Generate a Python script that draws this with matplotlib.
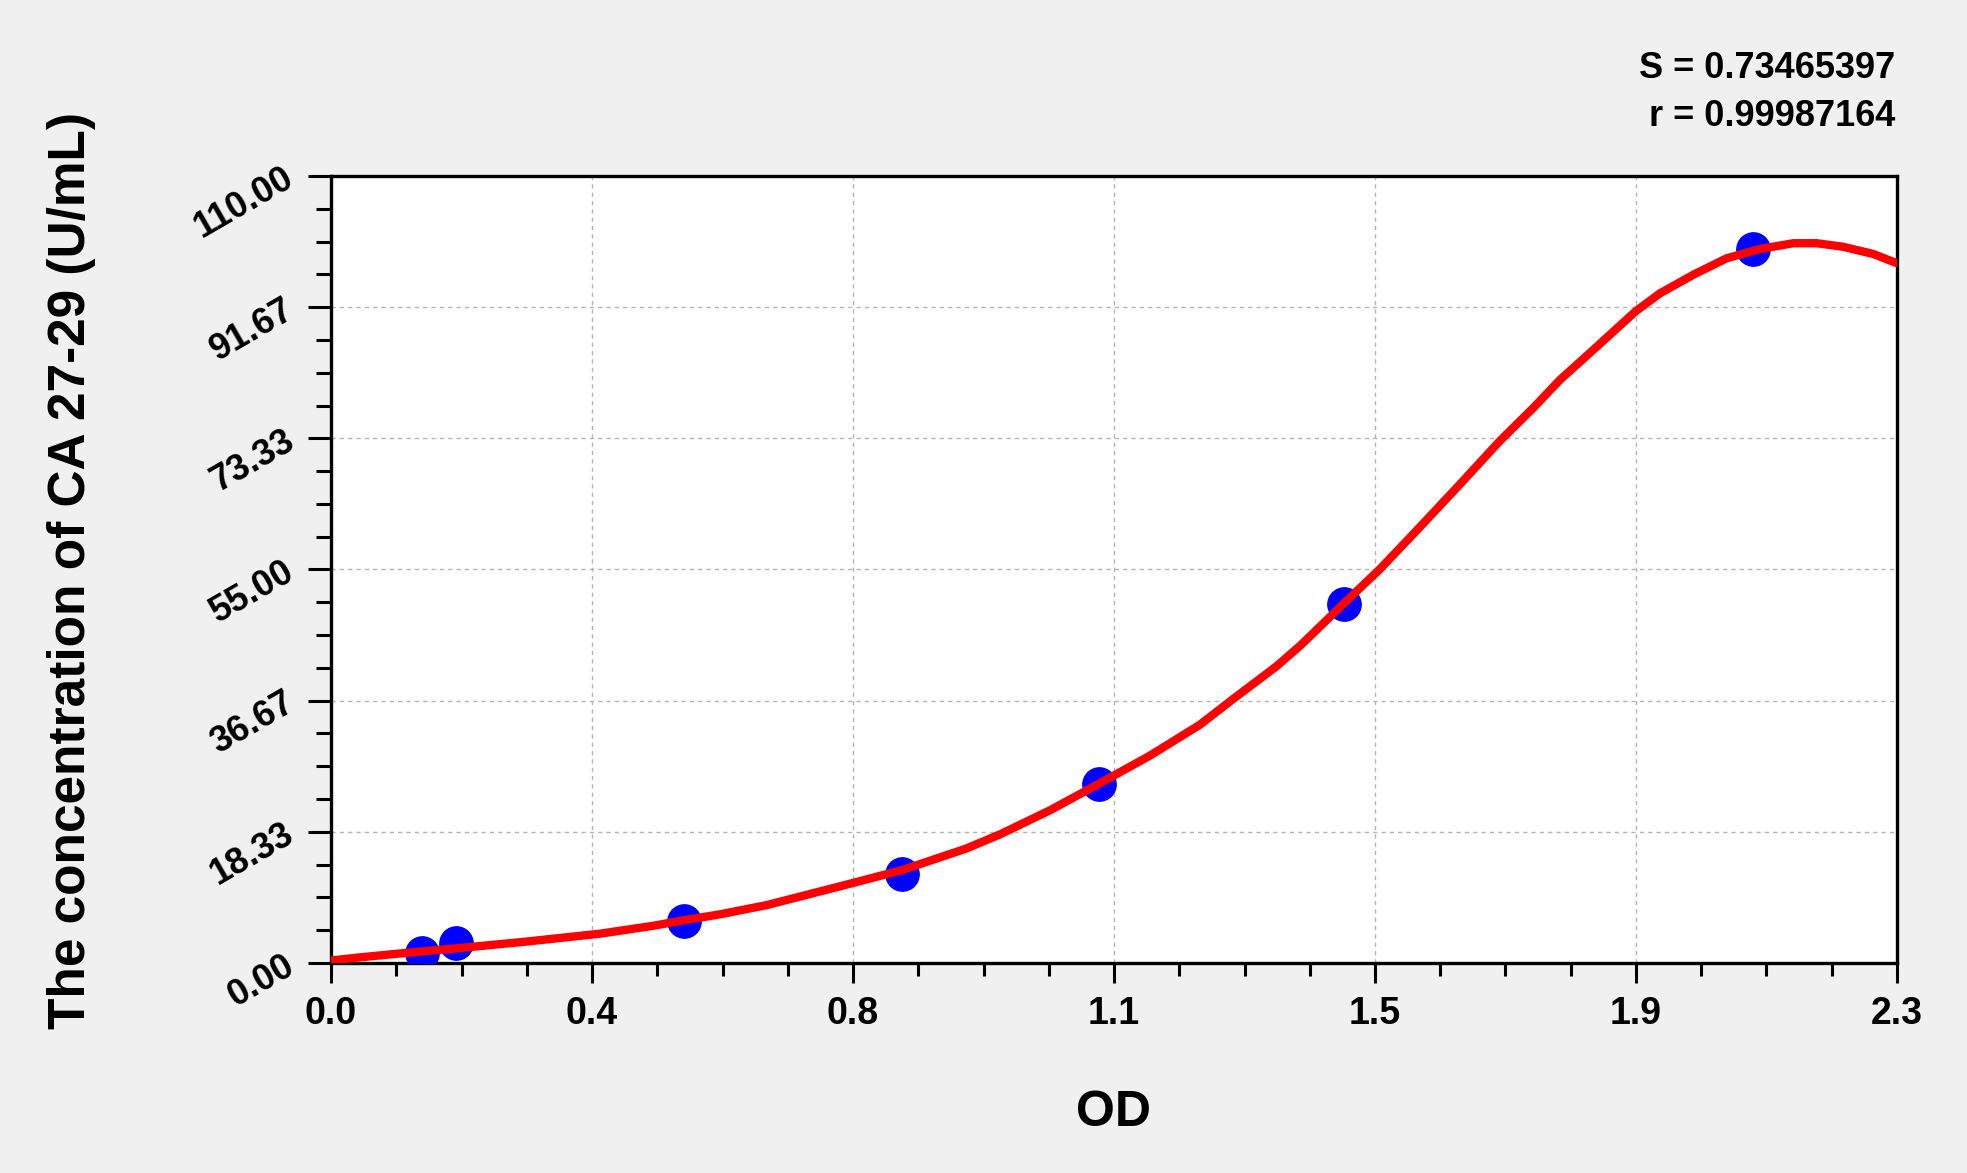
import matplotlib
matplotlib.use('Agg')
import matplotlib.pyplot as plt
from matplotlib.ticker import AutoMinorLocator

# Standard points (OD, concentration)
od = [0.133, 0.184, 0.519, 0.839, 1.128, 1.488, 2.088]
conc = [1.39, 2.73, 5.9, 12.4, 25.06, 50.2, 99.8]

# Fitted curve
curve_x = [0.000, 0.038, 0.097, 0.189, 0.287, 0.395, 0.473, 0.519, 0.571, 0.640,
           0.767, 0.839, 0.933, 0.983, 1.056, 1.128, 1.203, 1.276, 1.325, 1.389,
           1.424, 1.487, 1.541, 1.594, 1.658, 1.717, 1.766, 1.805, 1.854, 1.916,
           1.952, 2.001, 2.050, 2.099, 2.148, 2.182, 2.221, 2.265, 2.300]
curve_y = [0.35, 0.75, 1.3, 2.1, 3.0, 4.1, 5.2, 6.0, 6.8, 8.1,
           11.2, 13.0, 16.0, 18.0, 21.35, 25.06, 29.0, 33.3, 36.9, 41.5,
           44.4, 50.2, 55.1, 60.4, 66.9, 73.0, 77.6, 81.5, 85.7, 91.07,
           93.6, 96.2, 98.5, 99.8, 100.6, 100.6, 100.1, 99.1, 97.8]

x_ticks = [0.0, 2.3 / 6, 2 * 2.3 / 6, 3 * 2.3 / 6, 4 * 2.3 / 6, 5 * 2.3 / 6, 2.3]
x_labels = ['0.0', '0.4', '0.8', '1.1', '1.5', '1.9', '2.3']
y_ticks = [0.0, 110 / 6, 2 * 110 / 6, 3 * 110 / 6, 4 * 110 / 6, 5 * 110 / 6, 110.0]
y_labels = ['0.00', '18.33', '36.67', '55.00', '73.33', '91.67', '110.00']

plt.rcParams['font.family'] = ['Liberation Sans', 'DejaVu Sans']
plt.rcParams['font.weight'] = 'bold'

fig = plt.figure(figsize=(19.67, 11.73), dpi=100, facecolor='#f0f0f0')
ax = fig.add_axes([0.1683, 0.1790, 0.7961, 0.6710])
ax.set_facecolor('white')

# Points under the red curve
ax.plot(od, conc, 'o', markersize=24, color='#0000ff', zorder=3)
ax.plot(curve_x, curve_y, color='#ff0000', linewidth=6, zorder=4,
        solid_capstyle='round', solid_joinstyle='round')

ax.set_xlim(0, 2.3)
ax.set_ylim(0, 110)

ax.set_xticks(x_ticks)
ax.set_xticklabels(x_labels, fontsize=27, fontweight='bold')
ax.set_yticks(y_ticks)
ax.set_yticklabels(y_labels, fontsize=26, fontweight='bold', rotation=30,
                   rotation_mode='anchor', ha='right', va='center')
ax.xaxis.set_minor_locator(AutoMinorLocator(4))
ax.yaxis.set_minor_locator(AutoMinorLocator(4))

ax.tick_params(axis='both', which='both', direction='out', width=2.2, color='black')
ax.tick_params(axis='x', which='major', length=14.5, pad=9)
ax.tick_params(axis='x', which='minor', length=9.5)
ax.tick_params(axis='y', which='major', length=16.5, pad=12)
ax.tick_params(axis='y', which='minor', length=11)

for sp in ax.spines.values():
    sp.set_linewidth(2.4)
    sp.set_color('black')

# Dashed grid at the major ticks
ax.set_axisbelow(True)
ax.grid(True, which='major', color='#b4b4b4', linestyle=(0, (3, 3)), linewidth=1.0)

# Axis titles
fig.text(0.0364, 0.514, 'The concentration of CA 27-29 (U/mL)', rotation=90,
         ha='center', va='center', fontsize=37, fontweight='bold')
fig.text(0.566, 0.0514, 'OD', ha='center', va='center', fontsize=36, fontweight='bold')

# Fit statistics
fig.text(0.9634, 0.9335, 'S = 0.73465397', ha='right', va='baseline',
         fontsize=26, fontweight='bold')
fig.text(0.9634, 0.8926, 'r = 0.99987164', ha='right', va='baseline',
         fontsize=26, fontweight='bold')

plt.savefig('out.png', dpi=100, facecolor=fig.get_facecolor())
